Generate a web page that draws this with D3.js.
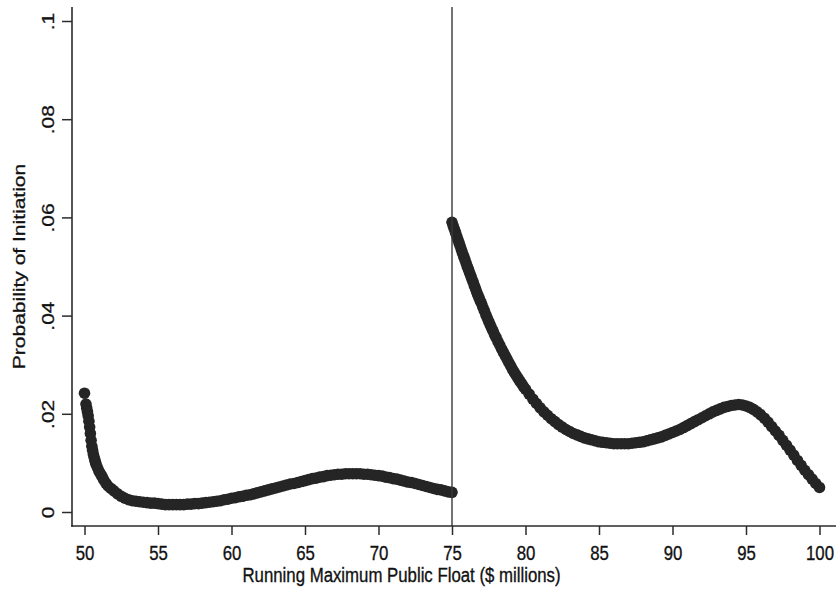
<!DOCTYPE html>
<html>
<head>
<meta charset="utf-8">
<script src="https://cdn.jsdelivr.net/npm/d3@7"></script>
<style>
  html, body { margin: 0; padding: 0; background: #ffffff; }
  svg { display: block; }
  text { font-family: "Liberation Sans", Arial, Helvetica, sans-serif; fill: #111111; stroke: #111111; stroke-width: 0.35px; }
</style>
</head>
<body>
<div id="chart"></div>
<script>
// ---- Data ----
const leftX = [50.00, 50.10, 50.15, 50.20, 50.25, 50.30, 50.35, 50.40, 50.45, 50.50,
  50.55, 50.60, 50.65, 50.70, 50.75, 50.80, 50.90, 51.00, 51.10, 51.20, 51.30, 51.45, 51.60, 51.80,
  52.00, 52.25, 52.50, 52.75,
  53.00, 53.25, 53.50, 53.75, 54.00, 54.25, 54.50, 54.75, 55.00, 55.25, 55.50, 55.75,
  56.00, 56.25, 56.50, 56.75, 57.00, 57.25, 57.50, 57.75, 58.00, 58.25, 58.50, 58.75,
  59.00, 59.25, 59.50, 59.75, 60.00, 60.25, 60.50, 60.75, 61.00, 61.25, 61.50, 61.75,
  62.00, 62.25, 62.50, 62.75, 63.00, 63.25, 63.50, 63.75, 64.00, 64.25, 64.50, 64.75,
  65.00, 65.25, 65.50, 65.75, 66.00, 66.25, 66.50, 66.75, 67.00, 67.25, 67.50, 67.75,
  68.00, 68.25, 68.50, 68.75, 69.00, 69.25, 69.50, 69.75, 70.00, 70.25, 70.50, 70.75,
  71.00, 71.25, 71.50, 71.75, 72.00, 72.25, 72.50, 72.75, 73.00, 73.25, 73.50, 73.75,
  74.00, 74.25, 74.50, 74.75, 75.00];
const leftY = [0.0242, 0.0220, 0.0212, 0.0204, 0.0196, 0.0185, 0.0173, 0.0160, 0.0146, 0.0134,
  0.0126, 0.0118, 0.0112, 0.0106, 0.0101, 0.0096, 0.0089, 0.0082, 0.0077, 0.0072, 0.0066, 0.0059, 0.0053, 0.0048,
  0.0043, 0.0037, 0.0032, 0.0028,
  0.0025, 0.0023, 0.0022, 0.0021, 0.0020, 0.0019, 0.0018, 0.0018, 0.0017, 0.0016, 0.0015, 0.0015,
  0.0015, 0.0015, 0.0015, 0.0015, 0.0016, 0.0016, 0.0017, 0.0017, 0.0018, 0.0019, 0.0020, 0.0021,
  0.0022, 0.0023, 0.0025, 0.0026, 0.0028, 0.0029, 0.0031, 0.0032, 0.0034, 0.0035, 0.0037, 0.0039,
  0.0041, 0.0043, 0.0045, 0.0047, 0.0049, 0.0051, 0.0053, 0.0055, 0.0057, 0.0058, 0.0060, 0.0062,
  0.0064, 0.0066, 0.0068, 0.0069, 0.0071, 0.0072, 0.0074, 0.0075, 0.0076, 0.0077, 0.0077, 0.0078,
  0.0078, 0.0078, 0.0078, 0.0078, 0.0077, 0.0077, 0.0076, 0.0075, 0.0074, 0.0073, 0.0071, 0.0070,
  0.0068, 0.0067, 0.0065, 0.0063, 0.0061, 0.0060, 0.0058, 0.0056, 0.0054, 0.0052, 0.0050, 0.0048,
  0.0046, 0.0045, 0.0043, 0.0041, 0.0040];

const rightX = [75.000, 75.080, 75.160, 75.240, 75.320, 75.400, 75.480, 75.560, 75.640, 75.720,
  75.800, 75.880, 75.960, 76.040, 76.120, 76.200, 76.280, 76.360, 76.440, 76.520, 76.600, 76.680,
  76.760, 76.840, 76.920, 77.000, 77.100, 77.200, 77.300, 77.400, 77.500, 77.600, 77.700, 77.800,
  77.900, 78.000, 78.125, 78.250, 78.375, 78.500, 78.625, 78.750, 78.875, 79.000, 79.125, 79.250,
  79.375, 79.500, 79.625, 79.750, 79.875, 80.00, 80.25, 80.50, 80.75,
  81.00, 81.25, 81.50, 81.75, 82.00, 82.25, 82.50, 82.75, 83.00, 83.25, 83.50, 83.75,
  84.00, 84.25, 84.50, 84.75, 85.00, 85.25, 85.50, 85.75, 86.00, 86.25, 86.50, 86.75,
  87.00, 87.25, 87.50, 87.75, 88.00, 88.25, 88.50, 88.75, 89.00, 89.25, 89.50, 89.75,
  90.00, 90.25, 90.50, 90.75, 91.00, 91.25, 91.50, 91.75, 92.00, 92.25, 92.50, 92.75,
  93.00, 93.25, 93.50, 93.75, 94.00, 94.25, 94.50, 94.75, 95.00, 95.25, 95.50, 95.75,
  96.00, 96.25, 96.50, 96.75, 97.00, 97.25, 97.50, 97.75, 98.00, 98.25, 98.50, 98.75,
  99.00, 99.25, 99.50, 99.75, 100.00];
const rightY = [0.0590, 0.0583, 0.0576, 0.0569, 0.0562, 0.0555, 0.0548, 0.0541, 0.0534, 0.0527,
  0.0520, 0.0514, 0.0507, 0.0500, 0.0494, 0.0487, 0.0481, 0.0474, 0.0468, 0.0461, 0.0455, 0.0448,
  0.0442, 0.0436, 0.0430, 0.0425, 0.0417, 0.0410, 0.0402, 0.0395, 0.0388, 0.0381, 0.0374, 0.0368,
  0.0361, 0.0355, 0.0347, 0.0340, 0.0332, 0.0325, 0.0318, 0.0311, 0.0304, 0.0297, 0.0290, 0.0284,
  0.0278, 0.0272, 0.0266, 0.0261, 0.0255, 0.0250, 0.0240, 0.0230, 0.0221,
  0.0212, 0.0204, 0.0197, 0.0190, 0.0184, 0.0178, 0.0173, 0.0168, 0.0164, 0.0160, 0.0157, 0.0154,
  0.0151, 0.0149, 0.0147, 0.0145, 0.0143, 0.0142, 0.0141, 0.0140, 0.0139, 0.0139, 0.0139, 0.0139,
  0.0139, 0.0140, 0.0141, 0.0142, 0.0143, 0.0145, 0.0147, 0.0149, 0.0151, 0.0153, 0.0156, 0.0159,
  0.0162, 0.0165, 0.0168, 0.0172, 0.0176, 0.0180, 0.0184, 0.0188, 0.0192, 0.0196, 0.0200, 0.0204,
  0.0207, 0.0210, 0.0213, 0.0215, 0.0217, 0.0218, 0.0219, 0.0218, 0.0216, 0.0213, 0.0209, 0.0204,
  0.0198, 0.0191, 0.0183, 0.0174, 0.0165, 0.0156, 0.0146, 0.0136, 0.0126, 0.0116, 0.0105, 0.0095,
  0.0085, 0.0076, 0.0067, 0.0058, 0.0050];

const cutoff = 75;
const xTicks = [50, 55, 60, 65, 70, 75, 80, 85, 90, 95, 100];
const xTickLabels = ["50", "55", "60", "65", "70", "75", "80", "85", "90", "95", "100"];
const yTicks = [0, 0.02, 0.04, 0.06, 0.08, 0.1];
const yTickLabels = ["0", ".02", ".04", ".06", ".08", ".1"];
const xTitle = "Running Maximum Public Float ($ millions)";
const yTitle = "Probability of Initiation";

// ---- Layout ----
const W = 836, H = 590;
const axisX = 72, axisY = 526, plotTop = 7;
const fontFam = "'Liberation Sans', Arial, Helvetica, sans-serif";

const svg = d3.select("#chart").append("svg").attr("width", W).attr("height", H);

const x = d3.scaleLinear().domain([50, 100]).range([84.5, 819.5]);
const y = d3.scaleLinear().domain([0, 0.1]).range([512, 21]);

const ink = "#252525";

// points
const pts = leftX.map((v, i) => ({ x: v, y: leftY[i] }))
  .concat(rightX.map((v, i) => ({ x: v, y: rightY[i] })));
svg.append("g").selectAll("circle").data(pts).join("circle")
  .attr("cx", d => x(d.x)).attr("cy", d => y(d.y)).attr("r", 5.8)
  .attr("fill", ink);

// cutoff line
svg.append("line")
  .attr("x1", x(cutoff)).attr("x2", x(cutoff))
  .attr("y1", plotTop).attr("y2", axisY)
  .attr("stroke", "#3a3a3a").attr("stroke-width", 1.4);

// axis lines
svg.append("line").attr("x1", axisX).attr("x2", axisX).attr("y1", plotTop).attr("y2", axisY + 0.75)
  .attr("stroke", "#2b2b2b").attr("stroke-width", 1.6);
svg.append("line").attr("x1", axisX - 0.8).attr("x2", W).attr("y1", axisY).attr("y2", axisY)
  .attr("stroke", "#2b2b2b").attr("stroke-width", 1.6);

// x axis
const gx = svg.append("g").attr("transform", `translate(0,${axisY})`)
  .call(d3.axisBottom(x).tickValues(xTicks).tickFormat((d, i) => xTickLabels[i])
    .tickSize(9).tickSizeOuter(0));
gx.select(".domain").remove();
gx.selectAll(".tick line").attr("stroke", "#2b2b2b").attr("stroke-width", 1.5);
gx.selectAll(".tick text")
  .attr("y", 0).attr("dy", 0)
  .attr("transform", "translate(0,33.5) scale(0.8,1)")
  .attr("font-size", 21).attr("fill", "#111")
  .style("font-family", fontFam);

// y axis
const gy = svg.append("g").attr("transform", `translate(${axisX},0)`)
  .call(d3.axisLeft(y).tickValues(yTicks).tickFormat((d, i) => yTickLabels[i])
    .tickSize(10).tickSizeOuter(0));
gy.select(".domain").remove();
gy.selectAll(".tick line").attr("stroke", "#2b2b2b").attr("stroke-width", 1.5);
gy.selectAll(".tick text")
  .attr("x", 0).attr("y", 0).attr("dy", 0)
  .attr("text-anchor", "middle")
  .attr("transform", "translate(-18,0) scale(0.8,1) rotate(-90)")
  .attr("font-size", 21).attr("fill", "#111")
  .style("font-family", fontFam);

// titles
svg.append("text")
  .attr("transform", "translate(401.5,582) scale(0.8,1)")
  .attr("text-anchor", "middle").attr("font-size", 21)
  .text(xTitle);
svg.append("text")
  .attr("transform", `translate(25,${(plotTop + axisY) / 2}) scale(0.8,1) rotate(-90)`)
  .attr("text-anchor", "middle").attr("font-size", 21)
  .text(yTitle);
</script>
</body>
</html>
